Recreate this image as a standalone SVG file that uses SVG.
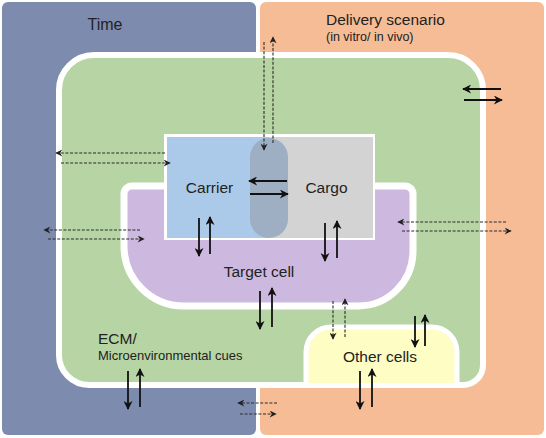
<svg xmlns="http://www.w3.org/2000/svg" width="546" height="438" viewBox="0 0 546 438">
<defs>
<style>
text{font-family:"Liberation Sans",Arial,sans-serif;fill:#222}
.s{stroke:#111;stroke-width:1.8;fill:none;marker-end:url(#ah)}
.d{stroke:#2a2a2a;stroke-width:1.1;stroke-dasharray:3,1.6;fill:none;marker-end:url(#ahd)}
</style>
<marker id="ah" viewBox="0 0 10 10" refX="9" refY="5" markerWidth="11" markerHeight="9" markerUnits="userSpaceOnUse" orient="auto">
<path d="M0,0 L10,5 L0,10 L3,5 Z" fill="#111"/>
</marker>
<marker id="ahd" viewBox="0 0 10 10" refX="9" refY="5" markerWidth="8" markerHeight="7" markerUnits="userSpaceOnUse" orient="auto">
<path d="M0,0 L10,5 L0,10 L3,5 Z" fill="#222"/>
</marker>
</defs>
<rect width="546" height="438" fill="#fff"/>
<g id="time">
<rect x="2" y="2" width="254" height="433" rx="6" fill="#7d8cae"/>
<text x="105" y="30" font-size="16" text-anchor="middle">Time</text>
</g>
<g id="delivery">
<rect x="260" y="2" width="284" height="433" rx="6" fill="#f5bc96"/>
<text x="326" y="25" font-size="15.5">Delivery scenario</text>
<text x="326" y="41" font-size="12.5">(in vitro/ in vivo)</text>
</g>
<g id="ecm">
<path d="M59,90 A35,35 0 0 1 94,55 L448,55 A35,35 0 0 1 483,90 L483,365 A20,20 0 0 1 463,385 L89,385 A30,30 0 0 1 59,355 Z" fill="#b7d5a4" stroke="#fff" stroke-width="6"/>
<text x="98" y="344" font-size="15.5">ECM/</text>
<text x="98" y="360" font-size="13">Microenvironmental cues</text>
</g>
<g id="target-cell">
<path d="M124,194 A8,8 0 0 1 132,186 L405,186 A8,8 0 0 1 413,194 L413,251 A55,55 0 0 1 358,306 L184,306 A60,60 0 0 1 124,246 Z" fill="#cdb9df" stroke="#fff" stroke-width="7"/>
<text x="259" y="277" font-size="15.5" text-anchor="middle">Target cell</text>
</g>
<g id="other-cells">
<path d="M306,383 L306,352 A25,25 0 0 1 331,327 L432,327 A25,25 0 0 1 457,352 L457,383" fill="#fdfdc4" stroke="#fff" stroke-width="5"/>
<text x="380" y="362" font-size="15.5" text-anchor="middle">Other cells</text>
</g>
<g id="carrier-cargo">
<rect x="164" y="134" width="211" height="106" fill="#fff"/>
<rect x="167" y="137" width="102" height="101" fill="#abc9e8"/>
<rect x="269" y="137" width="104" height="101" fill="#d3d3d3"/>
<rect x="250" y="138" width="38" height="100" rx="19" fill="#9eafc3"/>
<g id="carrier"><text x="209.5" y="193" font-size="15.5" text-anchor="middle">Carrier</text></g>
<g id="cargo"><text x="326.5" y="193" font-size="15.5" text-anchor="middle">Cargo</text></g>
</g>
<g id="connectors">
<line class="s" x1="287" y1="181" x2="249" y2="181"/>
<line class="s" x1="250" y1="194" x2="288" y2="194"/>
<line class="d" x1="264" y1="42" x2="264" y2="150"/>
<line class="d" x1="273" y1="143" x2="273" y2="37"/>
<line class="d" x1="165" y1="153" x2="56" y2="153"/>
<line class="d" x1="61" y1="163" x2="170" y2="163"/>
<line class="d" x1="140" y1="230" x2="44" y2="230"/>
<line class="d" x1="48" y1="239" x2="144" y2="239"/>
<line class="d" x1="506" y1="222" x2="398" y2="222"/>
<line class="d" x1="402" y1="231" x2="511" y2="231"/>
<line class="s" x1="501" y1="89" x2="463" y2="89"/>
<line class="s" x1="464" y1="100" x2="502" y2="100"/>
<line class="d" x1="277" y1="403" x2="238" y2="403"/>
<line class="d" x1="240" y1="414" x2="276" y2="414"/>
<line class="s" x1="199" y1="218" x2="199" y2="256"/>
<line class="s" x1="210" y1="254" x2="210" y2="217"/>
<line class="s" x1="325" y1="223" x2="325" y2="261"/>
<line class="s" x1="337" y1="258" x2="337" y2="221"/>
<line class="s" x1="260" y1="291" x2="260" y2="329"/>
<line class="s" x1="272" y1="327" x2="272" y2="288"/>
<line class="d" x1="333" y1="301" x2="333" y2="339"/>
<line class="d" x1="345" y1="337" x2="345" y2="299"/>
<line class="s" x1="415" y1="316" x2="415" y2="347"/>
<line class="s" x1="425" y1="346" x2="425" y2="315"/>
<line class="s" x1="360" y1="371" x2="360" y2="409"/>
<line class="s" x1="372" y1="407" x2="372" y2="369"/>
<line class="s" x1="128" y1="371" x2="128" y2="409"/>
<line class="s" x1="140" y1="407" x2="140" y2="369"/>
</g>
</svg>
